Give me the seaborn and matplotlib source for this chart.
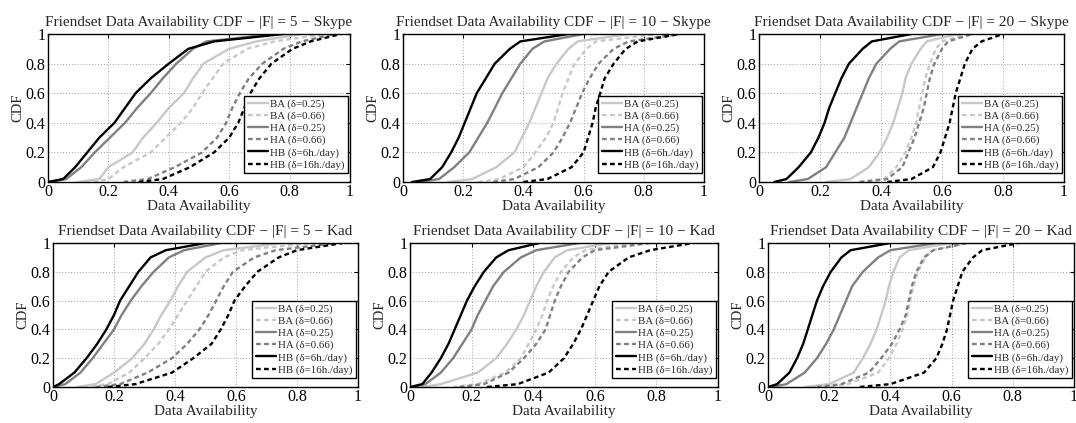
import numpy as np
import pandas as pd
import matplotlib
matplotlib.use("Agg")
import matplotlib.pyplot as plt
import seaborn as sns

# CDF levels shared by every curve; each series lists the data-availability
# value at which the CDF reaches the corresponding level.
cdf_levels = [0.0, 0.02, 0.1, 0.2, 0.3, 0.4, 0.5, 0.6, 0.7, 0.8, 0.9, 0.95, 1.0]

series_names = ["BA (δ=0.25)", "BA (δ=0.66)", "HA (δ=0.25)",
                "HA (δ=0.66)", "HB (δ=6h./day)", "HB (δ=16h./day)"]

panel_titles = [
    "Friendset Data Availability CDF − |F| = 5 − Skype",
    "Friendset Data Availability CDF − |F| = 10 − Skype",
    "Friendset Data Availability CDF − |F| = 20 − Skype",
    "Friendset Data Availability CDF − |F| = 5 − Kad",
    "Friendset Data Availability CDF − |F| = 10 − Kad",
    "Friendset Data Availability CDF − |F| = 20 − Kad",
]

# |F| = 5, Skype
skype5_ba025 = [0.10, 0.17, 0.20, 0.28, 0.315, 0.36, 0.40, 0.45, 0.48, 0.515, 0.60, 0.69, 0.84]
skype5_ba066 = [0.15, 0.20, 0.25, 0.34, 0.39, 0.44, 0.48, 0.51, 0.545, 0.58, 0.66, 0.75, 0.92]
skype5_ha025 = [0.00, 0.06, 0.11, 0.155, 0.205, 0.255, 0.295, 0.34, 0.38, 0.425, 0.48, 0.525, 0.75]
skype5_ha066 = [0.25, 0.33, 0.42, 0.51, 0.56, 0.59, 0.61, 0.635, 0.665, 0.71, 0.78, 0.84, 0.95]
skype5_hb6 = [0.00, 0.05, 0.09, 0.13, 0.17, 0.22, 0.255, 0.29, 0.34, 0.40, 0.465, 0.55, 0.78]
skype5_hb16 = [0.30, 0.38, 0.47, 0.55, 0.60, 0.63, 0.65, 0.67, 0.70, 0.74, 0.81, 0.87, 0.97]

# |F| = 10, Skype
skype10_ba025 = [0.15, 0.23, 0.31, 0.37, 0.395, 0.42, 0.44, 0.46, 0.48, 0.51, 0.55, 0.58, 0.75]
skype10_ba066 = [0.25, 0.32, 0.40, 0.44, 0.475, 0.50, 0.515, 0.53, 0.55, 0.57, 0.61, 0.64, 0.85]
skype10_ha025 = [0.05, 0.12, 0.17, 0.22, 0.25, 0.28, 0.305, 0.33, 0.36, 0.39, 0.43, 0.47, 0.60]
skype10_ha066 = [0.30, 0.37, 0.45, 0.50, 0.53, 0.555, 0.575, 0.595, 0.62, 0.65, 0.70, 0.75, 0.92]
skype10_hb6 = [0.03, 0.09, 0.13, 0.16, 0.185, 0.205, 0.225, 0.245, 0.275, 0.305, 0.355, 0.39, 0.55]
skype10_hb16 = [0.40, 0.48, 0.56, 0.60, 0.615, 0.63, 0.64, 0.655, 0.67, 0.70, 0.74, 0.78, 0.92]

# |F| = 20, Skype
skype20_ba025 = [0.22, 0.30, 0.36, 0.395, 0.42, 0.44, 0.455, 0.47, 0.48, 0.50, 0.53, 0.55, 0.65]
skype20_ba066 = [0.33, 0.41, 0.45, 0.48, 0.50, 0.515, 0.525, 0.535, 0.545, 0.56, 0.58, 0.60, 0.68]
skype20_ha025 = [0.10, 0.16, 0.22, 0.25, 0.28, 0.30, 0.32, 0.34, 0.36, 0.385, 0.43, 0.46, 0.60]
skype20_ha066 = [0.33, 0.42, 0.47, 0.49, 0.51, 0.525, 0.54, 0.55, 0.56, 0.575, 0.60, 0.62, 0.70]
skype20_hb6 = [0.05, 0.09, 0.13, 0.17, 0.195, 0.215, 0.23, 0.25, 0.27, 0.295, 0.34, 0.37, 0.50]
skype20_hb16 = [0.42, 0.50, 0.57, 0.595, 0.61, 0.625, 0.635, 0.645, 0.66, 0.675, 0.70, 0.73, 0.80]

# |F| = 5, Kad
kad5_ba025 = [0.08, 0.14, 0.20, 0.26, 0.30, 0.33, 0.355, 0.385, 0.41, 0.44, 0.50, 0.56, 0.75]
kad5_ba066 = [0.10, 0.18, 0.25, 0.30, 0.345, 0.38, 0.41, 0.44, 0.47, 0.50, 0.56, 0.62, 0.85]
kad5_ha025 = [0.00, 0.04, 0.09, 0.13, 0.165, 0.20, 0.225, 0.255, 0.29, 0.33, 0.38, 0.43, 0.55]
kad5_ha066 = [0.14, 0.22, 0.31, 0.39, 0.44, 0.48, 0.51, 0.535, 0.56, 0.59, 0.66, 0.73, 0.93]
kad5_hb6 = [0.00, 0.02, 0.07, 0.11, 0.145, 0.175, 0.20, 0.22, 0.25, 0.28, 0.32, 0.37, 0.50]
kad5_hb16 = [0.18, 0.27, 0.39, 0.46, 0.52, 0.55, 0.575, 0.595, 0.63, 0.67, 0.74, 0.80, 0.95]

# |F| = 10, Kad
kad10_ba025 = [0.04, 0.10, 0.22, 0.28, 0.315, 0.345, 0.37, 0.39, 0.41, 0.435, 0.47, 0.51, 0.65]
kad10_ba066 = [0.14, 0.22, 0.31, 0.36, 0.385, 0.41, 0.43, 0.445, 0.465, 0.49, 0.53, 0.57, 0.72]
kad10_ha025 = [0.01, 0.05, 0.10, 0.14, 0.17, 0.20, 0.22, 0.245, 0.27, 0.305, 0.36, 0.41, 0.55]
kad10_ha066 = [0.16, 0.24, 0.32, 0.37, 0.41, 0.44, 0.455, 0.47, 0.49, 0.515, 0.56, 0.60, 0.78]
kad10_hb6 = [0.00, 0.04, 0.07, 0.10, 0.125, 0.145, 0.165, 0.185, 0.21, 0.24, 0.28, 0.32, 0.42]
kad10_hb16 = [0.25, 0.35, 0.45, 0.50, 0.53, 0.555, 0.575, 0.595, 0.615, 0.645, 0.71, 0.78, 0.92]

# |F| = 20, Kad
kad20_ba025 = [0.12, 0.20, 0.28, 0.31, 0.335, 0.355, 0.37, 0.385, 0.395, 0.41, 0.43, 0.46, 0.60]
kad20_ba066 = [0.18, 0.26, 0.36, 0.395, 0.42, 0.44, 0.455, 0.465, 0.475, 0.49, 0.515, 0.54, 0.65]
kad20_ha025 = [0.01, 0.06, 0.12, 0.16, 0.19, 0.215, 0.235, 0.255, 0.275, 0.31, 0.36, 0.40, 0.55]
kad20_ha066 = [0.16, 0.24, 0.33, 0.37, 0.405, 0.43, 0.45, 0.46, 0.47, 0.485, 0.51, 0.54, 0.65]
kad20_hb6 = [0.00, 0.03, 0.07, 0.095, 0.115, 0.13, 0.145, 0.16, 0.18, 0.205, 0.24, 0.27, 0.40]
kad20_hb16 = [0.30, 0.40, 0.51, 0.55, 0.57, 0.585, 0.595, 0.605, 0.62, 0.635, 0.67, 0.70, 0.82]

panels = [
    [skype5_ba025, skype5_ba066, skype5_ha025, skype5_ha066, skype5_hb6, skype5_hb16],
    [skype10_ba025, skype10_ba066, skype10_ha025, skype10_ha066, skype10_hb6, skype10_hb16],
    [skype20_ba025, skype20_ba066, skype20_ha025, skype20_ha066, skype20_hb6, skype20_hb16],
    [kad5_ba025, kad5_ba066, kad5_ha025, kad5_ha066, kad5_hb6, kad5_hb16],
    [kad10_ba025, kad10_ba066, kad10_ha025, kad10_ha066, kad10_hb6, kad10_hb16],
    [kad20_ba025, kad20_ba066, kad20_ha025, kad20_ha066, kad20_hb6, kad20_hb16],
]

tick_values = [0, 0.2, 0.4, 0.6, 0.8, 1]
tick_labels = ["0", "0.2", "0.4", "0.6", "0.8", "1"]

# line styling per series
series_colors = ["#c8c8c8", "#c8c8c8", "#808080", "#808080", "#000000", "#000000"]
series_dashed = [False, True, False, True, False, True]

sns.set_theme(style="white")
plt.rcParams["font.family"] = ["Liberation Serif", "DejaVu Serif"]

fig = plt.figure(figsize=(10.76, 4.23), dpi=100)

W, H = 1076.0, 423.0
# axes boxes in pixels: left, top, right, bottom
boxes = [
    (48, 34, 350, 182),
    (403, 34, 704, 182),
    (759, 34, 1064, 182),
    (53, 243, 358, 387),
    (410, 243, 718, 387),
    (768, 243, 1074, 387),
]

for box, title, curves in zip(boxes, panel_titles, panels):
    l, t, r, b = box
    aw, ah = r - l, b - t
    ax = fig.add_axes([l / W, 1 - b / H, aw / W, ah / H])
    for name, xs, col, dashed in zip(series_names, curves, series_colors, series_dashed):
        df = pd.DataFrame({"availability": xs, "cdf": cdf_levels})
        line = sns.lineplot(data=df, x="availability", y="cdf", ax=ax, color=col,
                            lw=1.7, label=name, sort=False, estimator=None)
        if dashed:
            line.lines[-1].set_dashes((2.0, 1.4))
    ax.set_xlim(0, 1)
    ax.set_ylim(0, 1)
    ax.set_xticks(tick_values)
    ax.set_xticklabels(tick_labels)
    ax.set_yticks(tick_values)
    ax.set_yticklabels(tick_labels)
    ax.tick_params(axis="both", direction="in", length=3, width=0.8, labelsize=11.5,
                   top=True, right=True, colors="black")
    ax.tick_params(axis="x", pad=1.5)
    ax.tick_params(axis="y", pad=2)
    ax.grid(True, linestyle=(0, (1, 2)), color="#a0a0a0", lw=0.7)
    for sp in ax.spines.values():
        sp.set_color("black")
        sp.set_linewidth(1.0)
    ax.set_title(title, fontsize=11, pad=5.5)
    ax.set_xlabel("Data Availability", fontsize=11, labelpad=0)
    ax.set_ylabel("CDF", fontsize=10.5, labelpad=1)
    leg = ax.legend(loc="lower right", bbox_to_anchor=(1 - 2 / aw, 9 / ah),
                    fontsize=7.8, frameon=True, fancybox=False,
                    framealpha=1, edgecolor="black", handlelength=1.85,
                    handletextpad=0.25, borderaxespad=0.0, labelspacing=0.22,
                    borderpad=0.3)
    leg.get_frame().set_linewidth(1.0)

fig.savefig("out.png", dpi=100)
